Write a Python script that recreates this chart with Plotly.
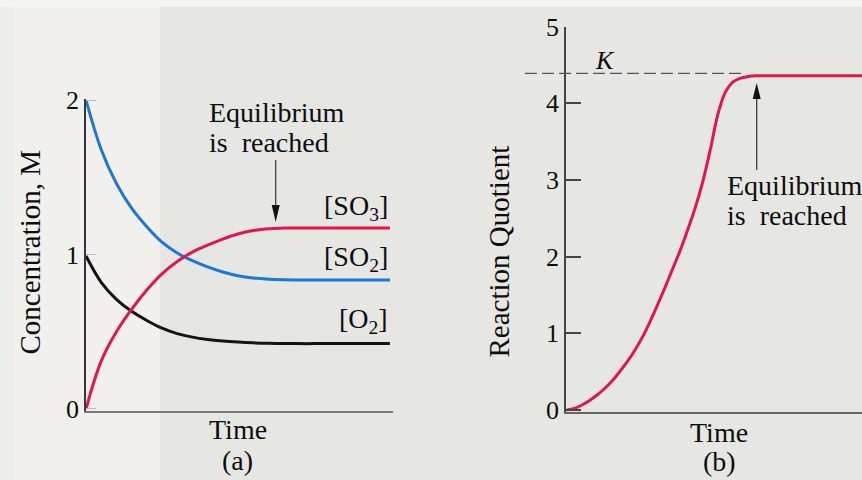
import plotly.graph_objects as go

# ---- data ----
time_a = [0, 0.5, 1.0, 1.5, 2.0, 2.5, 3.0, 3.5, 4.0, 4.5, 5.0, 5.5, 6.0, 6.5, 7.0, 7.5, 8.0, 8.5, 9.0, 9.5, 10.0]
so2 = [2.0, 1.68, 1.46, 1.30, 1.18, 1.08, 1.01, 0.96, 0.92, 0.887, 0.863, 0.848, 0.840, 0.836, 0.835, 0.835, 0.835, 0.835, 0.835, 0.835, 0.835]
so3 = [0, 0.31, 0.50, 0.645, 0.77, 0.875, 0.955, 1.015, 1.06, 1.10, 1.133, 1.155, 1.167, 1.171, 1.172, 1.172, 1.172, 1.172, 1.172, 1.172, 1.172]
o2 = [0.99, 0.82, 0.71, 0.632, 0.573, 0.523, 0.488, 0.465, 0.45, 0.44, 0.433, 0.428, 0.425, 0.424, 0.423, 0.423, 0.423, 0.423, 0.423, 0.423, 0.423]

time_b = [0, 0.25, 0.5, 0.75, 1.0, 1.25, 1.5, 1.75, 2.0, 2.25, 2.5, 2.75, 3.0, 3.25, 3.5, 3.75, 4.0, 4.25,
          4.5, 4.75, 5.0, 5.25, 5.5, 5.75, 6.0, 6.25, 6.5, 7.0, 8.0, 9.0, 10.0]
quotient = [0, 0.02, 0.065, 0.125, 0.195, 0.28, 0.38, 0.50, 0.63, 0.78, 0.95, 1.15, 1.37, 1.60, 1.84, 2.08, 2.35, 2.64,
            2.98, 3.40, 3.86, 4.15, 4.28, 4.33, 4.35, 4.36, 4.36, 4.36, 4.36, 4.36, 4.36]
K_value = 4.39

conc_ticks = [0, 1, 2]
q_ticks = [0, 1, 2, 3, 4, 5]
series_names = ["[SO<sub>3</sub>]", "[SO<sub>2</sub>]", "[O<sub>2</sub>]"]

W, H = 862, 480
SERIF = "Liberation Serif, Times New Roman, serif"
RED = "#e0174f"
BLUE = "#1b78d6"
BLACK = "#141414"
TEXT = "#0d0d0d"


def px(x):
    return x / W


def py(y):
    return 1 - y / H


fig = go.Figure()
spline = dict(width=3, shape="spline", smoothing=1.0)
fig.add_trace(go.Scatter(x=time_a, y=so2, mode="lines", line=dict(color=BLUE, **spline),
                         xaxis="x", yaxis="y", name=series_names[1]))
fig.add_trace(go.Scatter(x=time_a, y=o2, mode="lines", line=dict(color=BLACK, **spline),
                         xaxis="x", yaxis="y", name=series_names[2]))
fig.add_trace(go.Scatter(x=time_a, y=so3, mode="lines", line=dict(color=RED, **spline),
                         xaxis="x", yaxis="y", name=series_names[0]))
fig.add_trace(go.Scatter(x=time_b, y=quotient, mode="lines", line=dict(color=RED, **spline),
                         xaxis="x2", yaxis="y2", name="Q"))

axis_common = dict(showgrid=False, zeroline=False, fixedrange=True, automargin=False)

fig.update_layout(
    width=W, height=H,
    autosize=False,
    margin=dict(l=0, r=0, t=0, b=0, pad=0),
    paper_bgcolor="#e6e6e3",
    plot_bgcolor="rgba(0,0,0,0)",
    showlegend=False,
    font=dict(family=SERIF, color=TEXT),
    xaxis=dict(domain=[px(86), px(393)], range=[0, 10.1], showline=True, linecolor="#7a7a7a", linewidth=2,
               showticklabels=False, ticks="", anchor="y", **axis_common),
    yaxis=dict(domain=[py(410.5), py(98.5)], range=[-0.01, 2.01], showline=True, linecolor="#3a3440", linewidth=1.5,
               tickvals=conc_ticks, ticktext=[str(v) for v in conc_ticks], ticks="inside", ticklen=10,
               tickcolor="#bbbbbb", tickwidth=1, tickfont=dict(size=26, family=SERIF, color=TEXT),
               anchor="x", **axis_common),
    xaxis2=dict(domain=[px(566), 1.0], range=[-0.03, 9.77], showline=True, linecolor="#666666", linewidth=1.5,
                showticklabels=False, ticks="", anchor="y2", **axis_common),
    yaxis2=dict(domain=[py(411.5), py(26.7)], range=[-0.02, 5], showline=True, linecolor="#444444", linewidth=1.5,
                tickvals=q_ticks, ticktext=[str(v) for v in q_ticks], ticks="inside", ticklen=15,
                tickcolor="#444444", tickwidth=1.5, tickfont=dict(size=26, family=SERIF, color=TEXT),
                anchor="x2", **axis_common),
)

shapes = [
    # paper tones of the scan
    dict(type="rect", xref="paper", yref="paper", x0=px(13), x1=px(160), y0=0, y1=1,
         fillcolor="#f1f0ec", line=dict(width=0), layer="below"),
    dict(type="rect", xref="paper", yref="paper", x0=0, x1=px(13), y0=0, y1=1,
         fillcolor="#eceee9", line=dict(width=0), layer="below"),
    dict(type="rect", xref="paper", yref="paper", x0=0, x1=1, y0=py(7), y1=1,
         fillcolor="#f4f5f2", line=dict(width=0), layer="below"),
    # K reference line
    dict(type="line", xref="paper", yref="y2", x0=px(525), x1=px(745), y0=K_value, y1=K_value,
         line=dict(color="#555555", width=1.3, dash="12px,5px")),
    # arrow (a)
    dict(type="line", xref="paper", yref="paper", x0=px(275.7), x1=px(275.7), y0=py(160), y1=py(208),
         line=dict(color="#333333", width=1.2)),
    dict(type="path", xref="paper", yref="paper",
         path=f"M {px(275.7)},{py(222)} L {px(271.7)},{py(205)} L {px(279.7)},{py(205)} Z",
         fillcolor="#111111", line=dict(width=0)),
    # arrow (b)
    dict(type="line", xref="paper", yref="paper", x0=px(756.7), x1=px(756.7), y0=py(170), y1=py(96),
         line=dict(color="#333333", width=1.2)),
    dict(type="path", xref="paper", yref="paper",
         path=f"M {px(756.7)},{py(83)} L {px(752.7)},{py(99)} L {px(760.7)},{py(99)} Z",
         fillcolor="#111111", line=dict(width=0)),
]
fig.update_layout(shapes=shapes)


def note(text, x, y, size=28, xanchor="center", angle=0):
    return dict(text=text, xref="paper", yref="paper", x=px(x), y=py(y), xanchor=xanchor, yanchor="middle",
                showarrow=False, textangle=angle, font=dict(family=SERIF, size=size, color=TEXT))


annotations = [
    note("Concentration, M", 29.5, 252, size=29, angle=-90),
    note("Reaction Quotient", 498, 251.5, size=29, angle=-90),
    note("Equilibrium", 206.7, 112.3, xanchor="left"),
    note("is  reached", 206.7, 142.3, xanchor="left"),
    note(series_names[0], 390, 207.6, xanchor="right"),
    note(series_names[1], 390, 258.9, xanchor="right"),
    note(series_names[2], 390, 320.9, xanchor="right"),
    note("Time", 238, 429),
    note("(a)", 238, 460),
    note("Time", 719, 432),
    note("(b)", 719, 461),
    note("<i>K</i>", 605, 60.5, size=26),
    note("Equilibrium", 725, 185.6, xanchor="left"),
    note("is  reached", 725, 215.6, xanchor="left"),
]
fig.update_layout(annotations=annotations)

fig.write_html("out.html", config=dict(displayModeBar=False),
               post_script="document.body.style.margin='0';document.body.style.overflow='hidden';")
